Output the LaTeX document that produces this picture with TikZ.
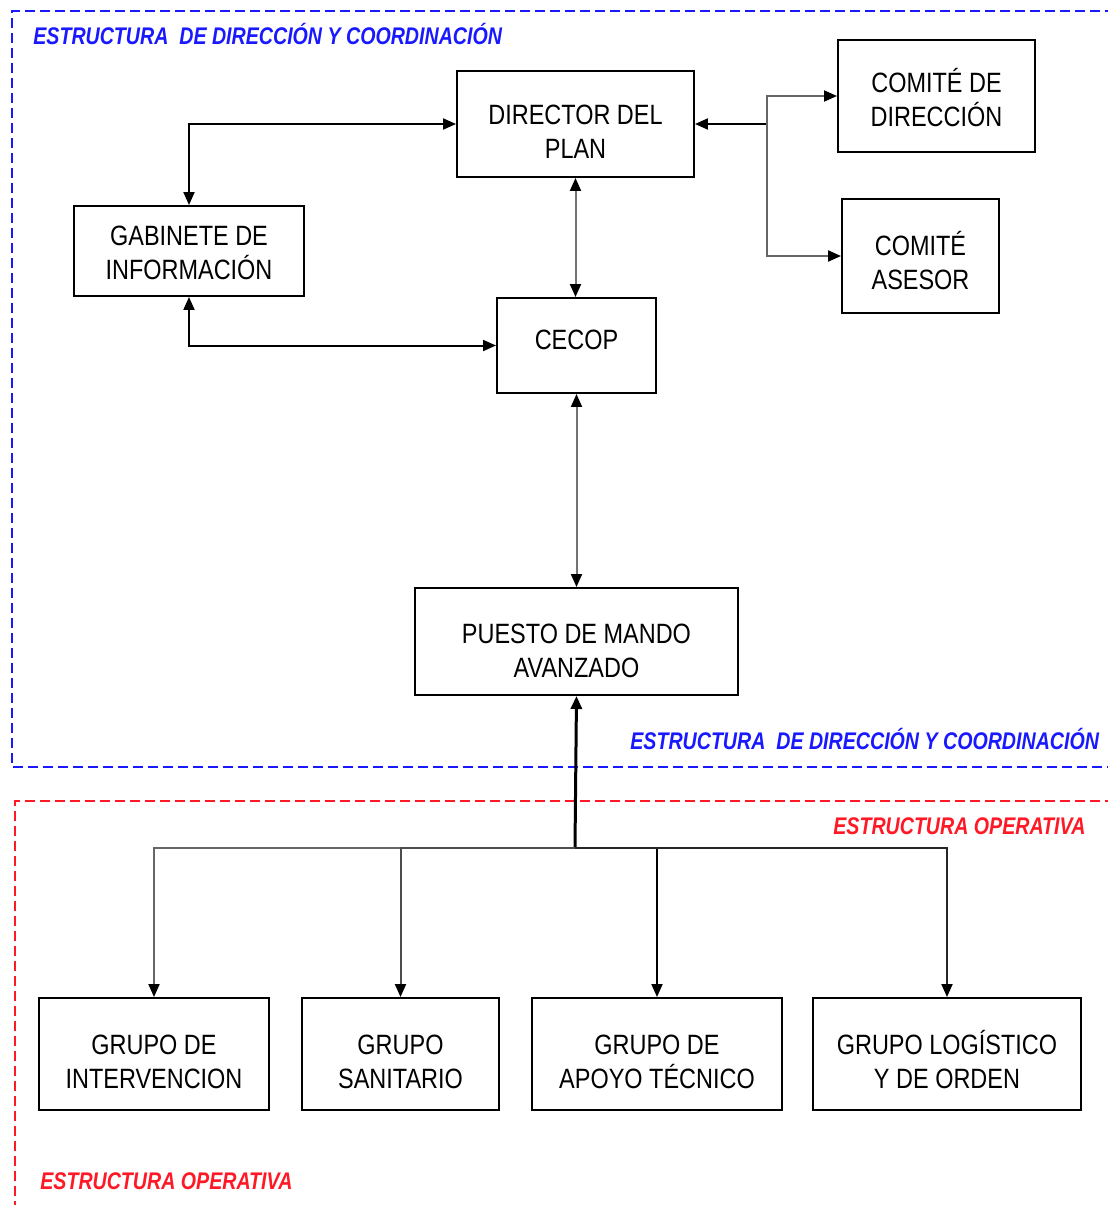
\documentclass[tikz,border=0pt]{standalone}
\usepackage{fontspec}
\setmainfont{Liberation Sans}
\newfontfamily\boxfont{Liberation Sans}[FakeStretch=0.84]
\newfontfamily\labelfont{Liberation Sans}[FakeStretch=0.815]
\usetikzlibrary{arrows.meta}
\definecolor{labelblue}{rgb}{0.1, 0.1, 1.0}
\definecolor{labelred}{rgb}{1.0, 0.1, 0.15}
\tikzstyle{caja} = [rectangle, draw=black, line width=0.04cm, align=center, inner sep=0pt, text depth=0pt, font=\boxfont\fontsize{15.9}{19.2}\selectfont]
\tikzstyle{arrow} = [line width=0.04cm, >={Triangle[length=0.26cm,width=0.22cm,color=black]}]
\tikzstyle{etiqueta} = [anchor=base west, inner sep=0pt, font=\labelfont\bfseries\itshape\fontsize{13.7}{16}\selectfont]
\tikzstyle{marco} = [line width=0.04cm, dash pattern=on 0.2cm off 0.1cm]

\begin{document}
\begin{tikzpicture}[x=0.02cm, y=-0.02cm]
\useasboundingbox (0,0) rectangle (1108,1205);
\fill[white] (0,0) rectangle (1108,1205);
% marcos
\draw[marco, draw=labelblue] (1115,11) -- (12,11) -- (12,767) -- (1115,767);
\draw[marco, draw=labelred] (1115,801) -- (15,801) -- (15,1212);
\node[etiqueta, text=labelblue] (eb1) at (33,44) {ESTRUCTURA\ \ DE DIRECCIÓN Y COORDINACIÓN};
\node[etiqueta, text=labelblue] (eb2) at (630,749) {ESTRUCTURA\ \ DE DIRECCIÓN Y COORDINACIÓN};
\node[etiqueta, text=labelred] (er1) at (833,834) {ESTRUCTURA OPERATIVA};
\node[etiqueta, text=labelred] (er2) at (40,1189) {ESTRUCTURA OPERATIVA};
% cajas
\node[caja, minimum width=4.74cm, minimum height=2.12cm, text height=1.36cm] (dir) at (575.5,124) {DIRECTOR DEL\\PLAN};
\node[caja, minimum width=3.94cm, minimum height=2.24cm, text height=1.2cm] (cdir) at (936.5,96) {COMITÉ DE\\DIRECCIÓN};
\node[caja, minimum width=3.14cm, minimum height=2.28cm, text height=1.32cm] (case) at (920.5,256) {COMITÉ\\ASESOR};
\node[caja, minimum width=4.6cm, minimum height=1.8cm, text height=1.12cm] (gab) at (189,251) {GABINETE DE\\INFORMACIÓN};
\node[caja, minimum width=3.18cm, minimum height=1.9cm, text height=0.47cm, text depth=0.33cm] (cecop) at (576.5,345.5) {CECOP};
\node[caja, minimum width=6.46cm, minimum height=2.14cm, text height=1.42cm] (pma) at (576.5,641.5) {PUESTO DE MANDO\\AVANZADO};
\node[caja, minimum width=4.6cm, minimum height=2.24cm, text height=1.36cm] (g1) at (154,1054) {GRUPO DE\\INTERVENCION};
\node[caja, minimum width=3.94cm, minimum height=2.24cm, text height=1.36cm] (g2) at (400.5,1054) {GRUPO\\SANITARIO};
\node[caja, minimum width=5.0cm, minimum height=2.24cm, text height=1.36cm] (g3) at (657,1054) {GRUPO DE\\APOYO TÉCNICO};
\node[caja, minimum width=5.36cm, minimum height=2.24cm, text height=1.36cm] (g4) at (947,1054) {GRUPO LOGÍSTICO\\Y DE ORDEN};
% conexiones
\coordinate (jc) at (767,124);
\coordinate (bus) at (575,848);
\draw[arrow, <->] (gab.north) |- (dir.west);
\draw[arrow, <->] (gab.south) |- (cecop.west);
\draw[arrow, <->, draw=black!55] (dir.south) -- (dir.south |- cecop.north);
\draw[arrow, <->, draw=black!55] (cecop.south) -- (cecop.south |- pma.north);
\draw[arrow, ->] (jc) -- (dir.east);
\draw[arrow, ->, draw=black!60] (jc) |- (cdir.west);
\draw[arrow, ->, draw=black!60] (jc) |- (case.west);
\draw[arrow, ->, line width=0.06cm] (bus) -- (pma.south);
\draw[arrow, ->, draw=black!60] (bus) -| (g1.north);
\draw[arrow, ->, draw=black!70] (bus) -| (g2.north);
\draw[arrow, ->] (bus) -| (g3.north);
\draw[arrow, ->, draw=black!85] (bus) -| (g4.north);
\end{tikzpicture}
\end{document}
